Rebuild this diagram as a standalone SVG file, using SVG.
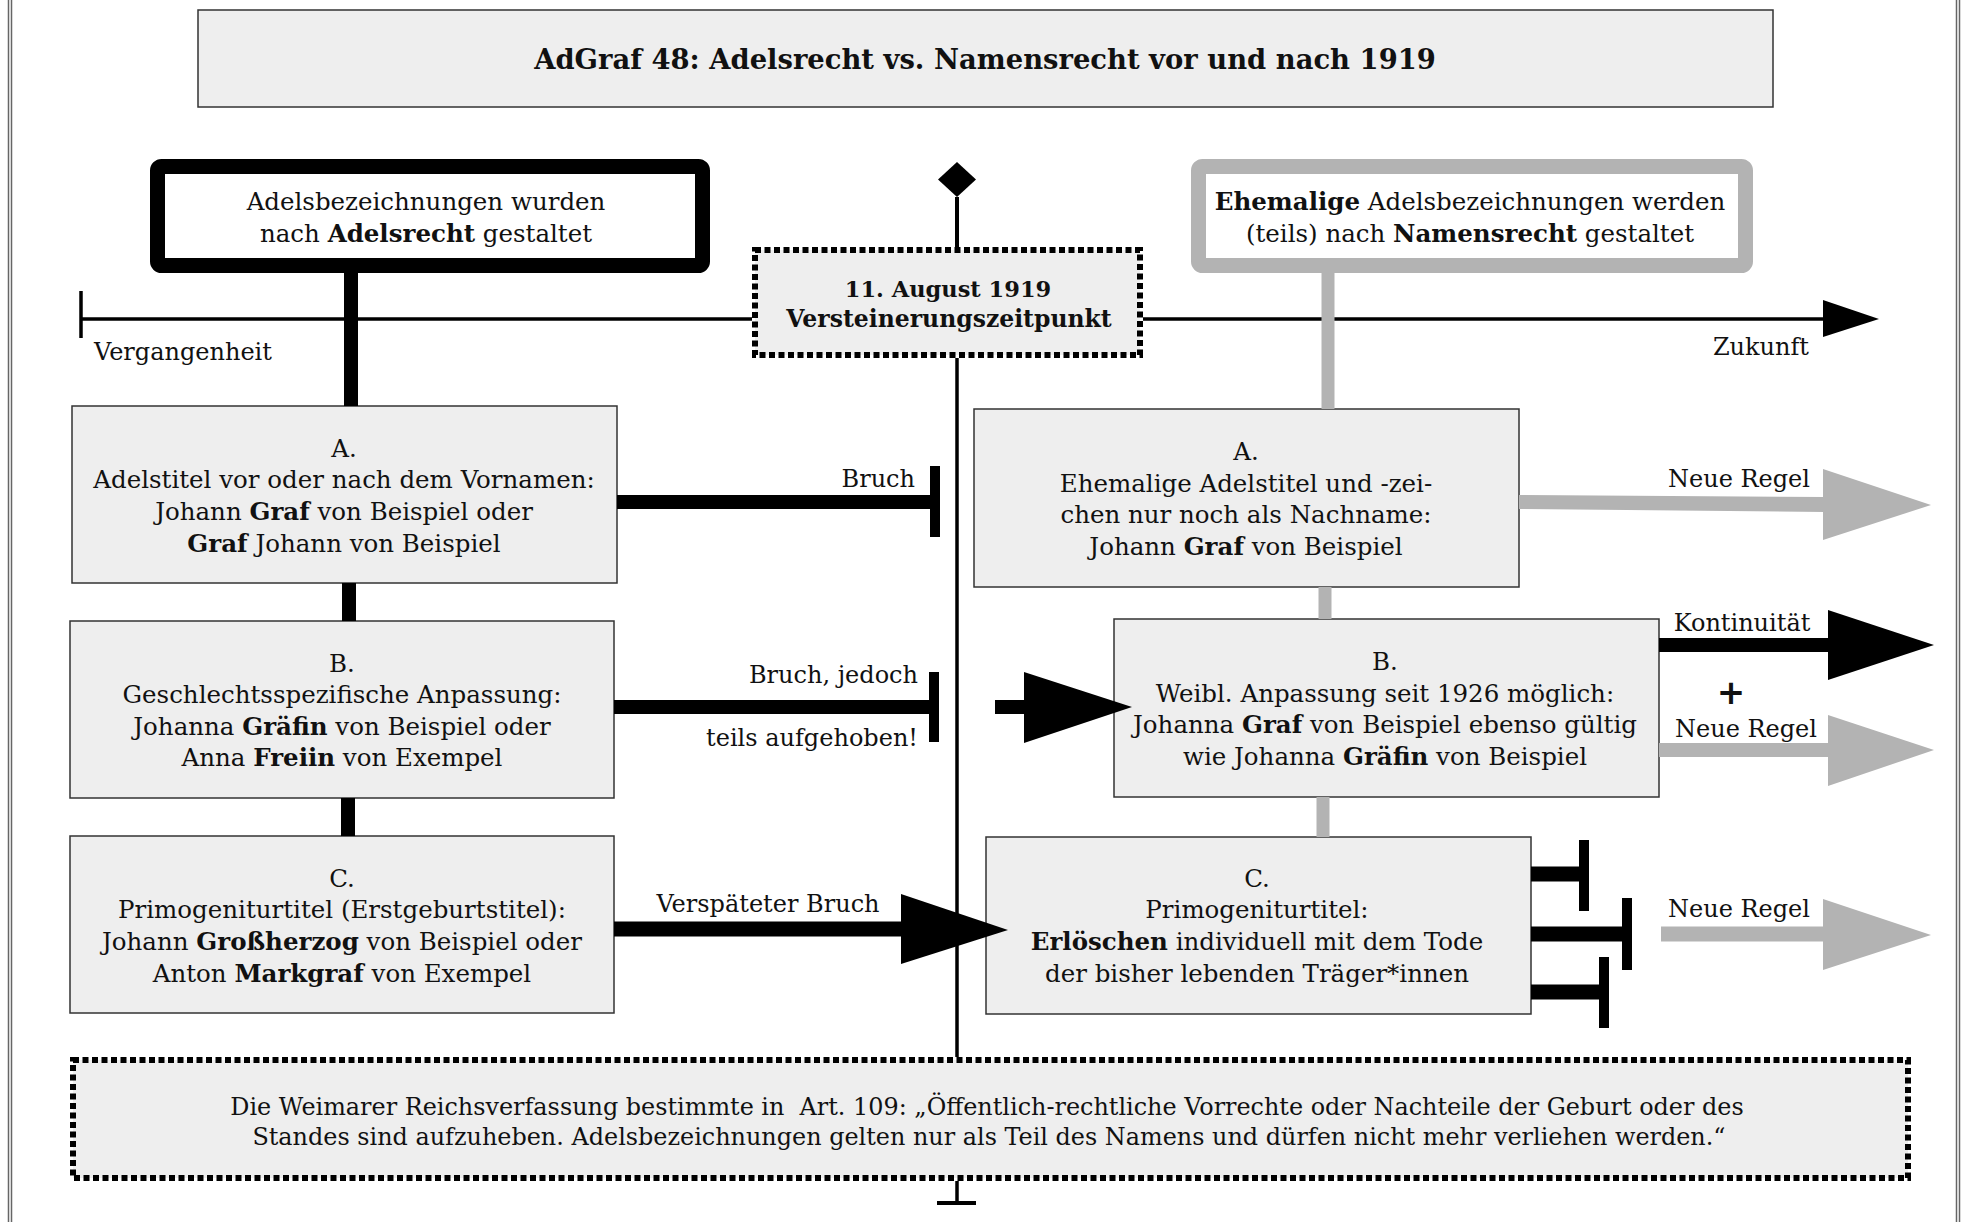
<svg xmlns="http://www.w3.org/2000/svg" width="1968" height="1222" viewBox="0 0 1968 1222">
<defs>
<style>
.t{font-family:"DejaVu Serif","Liberation Serif",serif;font-size:24.5px;fill:#111}
.l{font-size:24px}
.b{font-weight:bold}
.box{fill:#eeeeee;stroke:#333;stroke-width:1.5}
.dot{fill:#eeeeee;stroke:#000;stroke-width:6;stroke-dasharray:6 3.5}
.blk{stroke:#000;fill:none}
.gry{stroke:#b3b3b3;fill:none}
.frame{stroke:#666;stroke-width:1.5}
</style>
</defs>
<rect width="1968" height="1222" fill="#fff"/>
<g id="frame">
<line class="frame" x1="8.5" y1="0" x2="8.5" y2="1222"/>
<line class="frame" x1="11.5" y1="0" x2="11.5" y2="1222"/>
<line class="frame" x1="1956.5" y1="0" x2="1956.5" y2="1222"/>
<line class="frame" x1="1959.5" y1="0" x2="1959.5" y2="1222"/>
</g>
<g id="title">
<rect class="box" x="198" y="10" width="1575" height="97"/>
<text class="t b" x="985" y="69" text-anchor="middle" style="font-size:27.4px">AdGraf 48: Adelsrecht vs. Namensrecht vor und nach 1919</text>
</g>
<g id="head-left">
<rect x="157.5" y="166.5" width="545" height="99" rx="4" fill="#fff" stroke="#000" stroke-width="15"/>
<text class="t" x="426" y="210" text-anchor="middle">Adelsbezeichnungen wurden</text>
<text class="t" x="426" y="242" text-anchor="middle">nach <tspan class="b">Adelsrecht</tspan> gestaltet</text>
</g>
<g id="head-right">
<rect x="1198.5" y="166.5" width="547" height="99" rx="4" fill="#fff" stroke="#b3b3b3" stroke-width="15"/>
<text class="t" x="1470" y="210" text-anchor="middle"><tspan class="b">Ehemalige</tspan> Adelsbezeichnungen werden</text>
<text class="t" x="1470" y="242" text-anchor="middle">(teils) nach <tspan class="b">Namensrecht</tspan> gestaltet</text>
</g>
<g id="date">
<rect class="dot" x="755" y="250" width="385" height="105"/>
<text class="t b" x="948" y="297" text-anchor="middle" style="font-size:22.5px">11. August 1919</text>
<text class="t b" x="949" y="327" text-anchor="middle" style="font-size:23.5px">Versteinerungszeitpunkt</text>
</g>
<g id="left-A">
<rect class="box" x="72" y="406" width="545" height="177"/>
<text class="t" x="344" y="457" text-anchor="middle">A.</text>
<text class="t" x="344" y="488" text-anchor="middle">Adelstitel vor oder nach dem Vornamen:</text>
<text class="t" x="344" y="520" text-anchor="middle">Johann <tspan class="b">Graf</tspan> von Beispiel oder</text>
<text class="t" x="344" y="552" text-anchor="middle"><tspan class="b">Graf</tspan> Johann von Beispiel</text>
</g>
<g id="left-B">
<rect class="box" x="70" y="621" width="544" height="177"/>
<text class="t" x="342" y="672" text-anchor="middle">B.</text>
<text class="t" x="342" y="703" text-anchor="middle">Geschlechtsspezifische Anpassung:</text>
<text class="t" x="342" y="735" text-anchor="middle">Johanna <tspan class="b">Gräfin</tspan> von Beispiel oder</text>
<text class="t" x="342" y="766" text-anchor="middle">Anna <tspan class="b">Freiin</tspan> von Exempel</text>
</g>
<g id="left-C">
<rect class="box" x="70" y="836" width="544" height="177"/>
<text class="t" x="342" y="887" text-anchor="middle">C.</text>
<text class="t" x="342" y="918" text-anchor="middle">Primogeniturtitel (Erstgeburtstitel):</text>
<text class="t" x="342" y="950" text-anchor="middle">Johann <tspan class="b">Großherzog</tspan> von Beispiel oder</text>
<text class="t" x="342" y="982" text-anchor="middle">Anton <tspan class="b">Markgraf</tspan> von Exempel</text>
</g>
<g id="right-A">
<rect class="box" x="974" y="409" width="545" height="178"/>
<text class="t" x="1246" y="460" text-anchor="middle">A.</text>
<text class="t" x="1246" y="492" text-anchor="middle">Ehemalige Adelstitel und -zei-</text>
<text class="t" x="1246" y="523" text-anchor="middle">chen nur noch als Nachname:</text>
<text class="t" x="1246" y="555" text-anchor="middle">Johann <tspan class="b">Graf</tspan> von Beispiel</text>
</g>
<g id="right-B">
<rect class="box" x="1114" y="619" width="545" height="178"/>
<text class="t" x="1385" y="670" text-anchor="middle">B.</text>
<text class="t" x="1385" y="702" text-anchor="middle">Weibl. Anpassung seit 1926 möglich:</text>
<text class="t" x="1385" y="733" text-anchor="middle">Johanna <tspan class="b">Graf</tspan> von Beispiel ebenso gültig</text>
<text class="t" x="1385" y="765" text-anchor="middle">wie Johanna <tspan class="b">Gräfin</tspan> von Beispiel</text>
</g>
<g id="right-C">
<rect class="box" x="986" y="837" width="545" height="177"/>
<text class="t" x="1257" y="887" text-anchor="middle">C.</text>
<text class="t" x="1257" y="918" text-anchor="middle">Primogeniturtitel:</text>
<text class="t" x="1257" y="950" text-anchor="middle"><tspan class="b">Erlöschen</tspan> individuell mit dem Tode</text>
<text class="t" x="1257" y="982" text-anchor="middle">der bisher lebenden Träger*innen</text>
</g>
<g id="note">
<rect class="dot" x="73" y="1060" width="1835" height="118"/>
<text class="t" x="987" y="1115" text-anchor="middle" style="font-size:23.9px">Die Weimarer Reichsverfassung bestimmte in&#160; Art. 109: „Öffentlich-rechtliche Vorrechte oder Nachteile der Geburt oder des</text>
<text class="t" x="989" y="1145" text-anchor="middle" style="font-size:23.9px">Standes sind aufzuheben. Adelsbezeichnungen gelten nur als Teil des Namens und dürfen nicht mehr verliehen werden.“</text>
</g>
<g id="connectors">
<line class="blk" x1="81" y1="319" x2="752" y2="319" stroke-width="3.5"/>
<line class="blk" x1="81" y1="291" x2="81" y2="338" stroke-width="3.5"/>
<line class="blk" x1="1143" y1="319" x2="1826" y2="319" stroke-width="3.5"/>
<polygon points="1823,300 1879,319 1823,337" fill="#000"/>
<text class="t l" x="94" y="360">Vergangenheit</text>
<text class="t l" x="1809" y="355" text-anchor="end">Zukunft</text>
<polygon points="957,162 976,179.5 957,197 938,179.5" fill="#000"/>
<line class="blk" x1="957" y1="197" x2="957" y2="247" stroke-width="4"/>
<line class="blk" x1="957" y1="358" x2="957" y2="1057" stroke-width="3.5"/>
<line class="blk" x1="957" y1="1181" x2="957" y2="1203" stroke-width="3.5"/>
<line class="blk" x1="937" y1="1203" x2="976" y2="1203" stroke-width="4"/>
<line class="blk" x1="351" y1="273" x2="351" y2="406" stroke-width="14"/>
<line class="blk" x1="349" y1="583" x2="349" y2="621" stroke-width="14"/>
<line class="blk" x1="348" y1="798" x2="348" y2="836" stroke-width="14"/>
<line class="gry" x1="1328" y1="273" x2="1328" y2="409" stroke-width="13"/>
<line class="gry" x1="1325" y1="587" x2="1325" y2="619" stroke-width="13"/>
<line class="gry" x1="1323" y1="797" x2="1323" y2="837" stroke-width="13"/>
<line class="blk" x1="617" y1="502" x2="935" y2="502" stroke-width="14"/>
<line class="blk" x1="935" y1="466" x2="935" y2="537" stroke-width="10"/>
<text class="t l" x="915" y="487" text-anchor="end">Bruch</text>
<line class="blk" x1="614" y1="707" x2="934" y2="707" stroke-width="14"/>
<line class="blk" x1="934" y1="672" x2="934" y2="742" stroke-width="10"/>
<text class="t l" x="918" y="683" text-anchor="end">Bruch, jedoch</text>
<text class="t l" x="918" y="746" text-anchor="end">teils aufgehoben!</text>
<line class="blk" x1="614" y1="929" x2="903" y2="929" stroke-width="15"/>
<polygon points="901,894 1008,930 901,964" fill="#000"/>
<text class="t l" x="768" y="912" text-anchor="middle">Verspäteter Bruch</text>
<polygon points="1519,495 1825,497 1825,512 1519,509" fill="#b3b3b3"/>
<polygon points="1823,469 1931,505 1823,540" fill="#b3b3b3"/>
<text class="t l" x="1810" y="487" text-anchor="end">Neue Regel</text>
<line class="blk" x1="995" y1="707" x2="1026" y2="707" stroke-width="14"/>
<polygon points="1024,672 1132,707 1024,743" fill="#000"/>
<line class="blk" x1="1659" y1="645" x2="1830" y2="645" stroke-width="14"/>
<polygon points="1828,610 1934,645 1828,680" fill="#000"/>
<text class="t l" x="1742" y="631" text-anchor="middle">Kontinuität</text>
<text x="1731" y="704" text-anchor="middle" font-family="DejaVu Sans, sans-serif" font-weight="bold" font-size="34" fill="#111">+</text>
<line class="gry" x1="1659" y1="750" x2="1830" y2="750" stroke-width="14"/>
<polygon points="1828,715 1934,750 1828,786" fill="#b3b3b3"/>
<text class="t l" x="1746" y="737" text-anchor="middle">Neue Regel</text>
<line class="blk" x1="1531" y1="874" x2="1584" y2="874" stroke-width="15"/>
<line class="blk" x1="1584" y1="840" x2="1584" y2="911" stroke-width="10"/>
<line class="blk" x1="1531" y1="934" x2="1627" y2="934" stroke-width="15"/>
<line class="blk" x1="1627" y1="898" x2="1627" y2="970" stroke-width="10"/>
<line class="blk" x1="1531" y1="992" x2="1604" y2="992" stroke-width="15"/>
<line class="blk" x1="1604" y1="957" x2="1604" y2="1028" stroke-width="10"/>
<line class="gry" x1="1661" y1="934" x2="1825" y2="934" stroke-width="15"/>
<polygon points="1823,899 1931,935 1823,970" fill="#b3b3b3"/>
<text class="t l" x="1810" y="917" text-anchor="end">Neue Regel</text>
</g>
</svg>
